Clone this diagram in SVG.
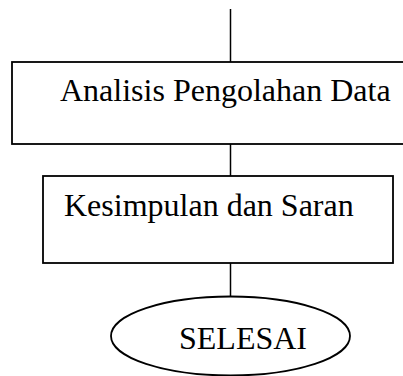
<svg xmlns="http://www.w3.org/2000/svg" width="403" height="376" viewBox="0 0 403 376">
<style>
.box{fill:#fff;stroke:#000;stroke-width:1.8}
.ln{stroke:#000;stroke-width:1.5;fill:none}
.t{font-family:"Liberation Serif","Times New Roman",serif;font-size:32px;fill:#000}
</style>
<rect width="403" height="376" fill="#fff"/>
<g id="connectors">
<line class="ln" x1="230.5" y1="9" x2="230.5" y2="62"/>
<line class="ln" x1="230.5" y1="144" x2="230.5" y2="176"/>
<line class="ln" x1="230.5" y1="263" x2="230.5" y2="296"/>
</g>
<g id="analisis">
<rect class="box" x="12" y="62" width="400" height="82"/>
<text class="t" x="60" y="101">Analisis Pengolahan Data</text>
</g>
<g id="kesimpulan">
<rect class="box" x="43" y="176" width="350" height="87"/>
<text class="t" x="64" y="216">Kesimpulan dan Saran</text>
</g>
<g id="selesai">
<ellipse class="box" cx="230.5" cy="336" rx="119.5" ry="39.5"/>
<text class="t" x="179" y="349">SELESAI</text>
</g>
</svg>
